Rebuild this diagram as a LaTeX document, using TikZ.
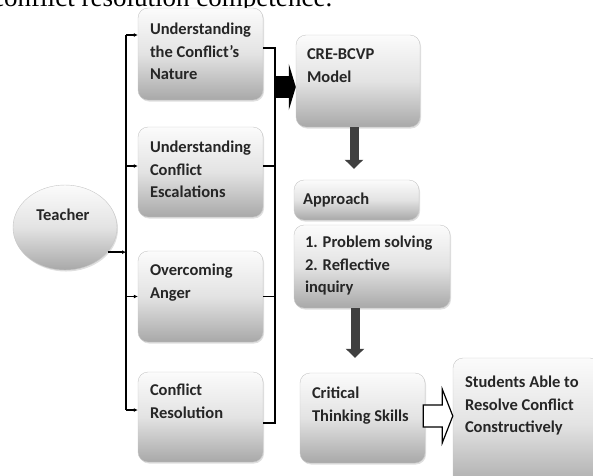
\documentclass[tikz,border=0pt]{standalone}
\usepackage{fontspec}
\setmainfont{Carlito}
\newfontfamily\captionface{Liberation Serif}
\usetikzlibrary{positioning, arrows.meta, shadows, shapes.geometric}

\begin{document}
\begin{tikzpicture}[x=1pt, y=-1pt,
    card/.style={draw=gray!45, rounded corners=10pt, top color=gray!3, bottom color=gray!68, middle color=gray!22,
        drop shadow={opacity=0.25, shadow xshift=1pt, shadow yshift=-1.5pt}},
    cardtext/.style={font=\bfseries\fontsize{16.5}{22.5}\selectfont, text=black!85, align=left, inner sep=0pt},
    bus/.style={line width=1.3pt},
    feed/.style={line width=1.3pt, -{Latex[length=4pt, width=4pt]}},
    fatdown/.style={line width=9pt, draw=black!75, -{Triangle[length=9pt, width=18pt]}},
    hollow/.style={draw=black, line width=1.2pt, fill=white, line join=miter}]
    \useasboundingbox (0,0) rectangle (593,475);
    \clip (0,0) rectangle (593,475);

    \node[font=\captionface, anchor=base west, inner sep=0pt] (caption) at (-8,6) {\resizebox{340pt}{!}{conflict resolution competence.}};

    % teacher and the four topics
    \node[card, ellipse, rounded corners=0pt, minimum width=104pt, minimum height=85pt, inner sep=0pt] (teacher) at (65,227.5) {};
    \node[cardtext] (teacher-txt) at ([yshift=13pt,xshift=-2pt]teacher.center) {Teacher};

    \node[card, minimum width=125pt, minimum height=92pt] (nature) at (200.5,54) {};
    \node[cardtext, below right=15pt and 12pt of nature.north west] (nature-txt) {Understanding\\the Conflict's\\Nature};
    \node[card, minimum width=125pt, minimum height=90pt] (escal) at (200.5,172) {};
    \node[cardtext, below right=14pt and 12pt of escal.north west] (escal-txt) {Understanding\\Conflict\\Escalations};
    \node[card, minimum width=125pt, minimum height=91pt] (anger) at (200.5,296.5) {};
    \node[cardtext, below right=13pt and 12pt of anger.north west] (anger-txt) {Overcoming\\Anger};
    \node[card, minimum width=125pt, minimum height=90pt] (resol) at (200.5,417) {};
    \node[cardtext, below right=12pt and 12pt of resol.north west] (resol-txt) {Conflict\\Resolution};

    % model column
    \node[card, minimum width=124pt, minimum height=92pt] (model) at (358,81) {};
    \node[cardtext, below right=14pt and 11pt of model.north west] (model-txt) {CRE-BCVP\\Model};
    \node[card, minimum width=125pt, minimum height=40pt] (approach) at (356.5,200) {};
    \node[cardtext, right=9pt of approach.west] (approach-txt) {Approach};
    \node[card, minimum width=156pt, minimum height=83pt] (problem) at (372,266.5) {};
    \node[cardtext, below right=11pt and 11pt of problem.north west] (problem-txt) {1. Problem solving\\2. Reflective\\inquiry};
    \node[card, minimum width=125pt, minimum height=90pt] (critical) at (362.5,418) {};
    \node[cardtext, below right=14pt and 12pt of critical.north west] (critical-txt) {Critical\\Thinking Skills};
    \node[card, minimum width=147pt, minimum height=132pt] (students) at (526.5,424) {};
    \node[cardtext, below right=18pt and 12pt of students.north west] (students-txt) {Students Able to\\Resolve Conflict\\Constructively};

    % left bus
    \coordinate (ltop) at (126,35);
    \coordinate (lmid) at (126,251);
    \coordinate (lbot) at (126,410);
    \draw[bus] (ltop) -- (lbot);
    \draw[feed] (teacher.-30) -- (teacher.-30 -| lmid);
    \draw[feed] (ltop) -- (nature.west |- ltop);
    \draw[feed] ([xshift=-12pt,yshift=6pt]escal.west) -- ([yshift=6pt]escal.west);
    \draw[feed] (anger.west -| ltop) -- (anger.west);
    \draw[feed] (lbot) -- (resol.west |- lbot);

    % right bus
    \coordinate (rtop) at (275,48);
    \coordinate (rmid) at (275,87);
    \coordinate (rbot) at (275,423);
    \draw[bus] (nature.east |- rtop) -- (rtop) -- (rbot) -- (resol.east |- rbot);
    \draw[bus] ([yshift=6pt]escal.east) -- ([xshift=12pt,yshift=6pt]escal.east);
    \draw[bus] (anger.east) -- (anger.east -| rtop);
    \draw[line width=22pt, -{Triangle[length=7pt, width=46pt]}] (rmid) -- (model.west |- rmid);

    % down the model column
    \draw[fatdown, shorten >=11pt] ([xshift=-4pt]model.south) -- ([xshift=-2.5pt]approach.north);
    \draw[fatdown, shorten >=15pt] ([xshift=-17pt]problem.south) -- ([xshift=-7.5pt]critical.north);
    \draw[hollow] ([shift={(-2,-13)}]critical.east) -- ([shift={(17,-13)}]critical.east) -- ([shift={(17,-29)}]critical.east)
        -- ([yshift=8pt]students.west) -- ([shift={(17,25)}]critical.east) -- ([shift={(17,9)}]critical.east)
        -- ([shift={(-2,9)}]critical.east) -- cycle;
\end{tikzpicture}
\end{document}
